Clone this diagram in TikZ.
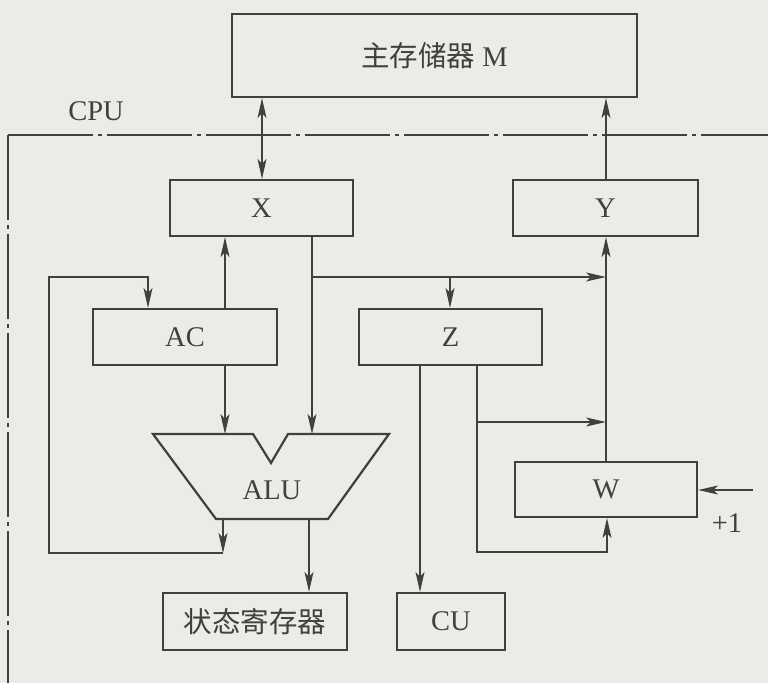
\documentclass[tikz,border=0pt]{standalone}
\usepackage{fontspec}
\setmainfont{Liberation Serif}
\newfontfamily\cjk{Noto Sans CJK SC}
\usetikzlibrary{arrows.meta}
\definecolor{bg}{RGB}{237,235,231}
\definecolor{ink}{RGB}{66,64,62}
\begin{document}
\begin{tikzpicture}[x=1pt,y=-1pt,
  every node/.style={text=ink,font=\fontsize{28.5}{31}\selectfont},
  box/.style={draw=ink,line width=2.2pt,inner sep=0pt,anchor=center},
  conn/.style={draw=ink,line width=1.3pt},
  arr/.style={conn,-{Stealth[length=20pt,width=9pt,inset=5pt]}},
  darr/.style={conn,{Stealth[length=20pt,width=9pt,inset=5pt]}-{Stealth[length=20pt,width=9pt,inset=5pt]}},
  frame/.style={draw=ink,line width=1.1pt,dash pattern=on 85pt off 5pt on 4pt off 5pt}]
\fill[bg] (0,0) rectangle (768,683);
\useasboundingbox (0,0) rectangle (768,683);
% boxes
\node[box,minimum width=405pt,minimum height=83pt] (M) at (434.5,55.5) {{\cjk 主存储器} M};
\node[box,minimum width=183pt,minimum height=56pt] (X) at (261.5,208) {X};
\node[box,minimum width=185pt,minimum height=56pt] (Y) at (605.5,208) {Y};
\node[box,minimum width=184pt,minimum height=56pt] (AC) at (185,337) {AC};
\node[box,minimum width=183pt,minimum height=56pt] (Z) at (450.5,337) {Z};
\node[box,minimum width=182pt,minimum height=55pt] (W) at (606,489.5) {W};
\node[box,minimum width=184pt,minimum height=57pt] (S) at (255,621.5) {\cjk 状态寄存器};
\node[box,minimum width=108pt,minimum height=57pt] (CU) at (451,621.5) {CU};
\node (cpu) at (96,111) {CPU};
\node (plus) at (727,523) {+1};
% ALU
\coordinate (a1) at (153,434);
\coordinate (a2) at (253,434);
\coordinate (a3) at (271,463);
\coordinate (a4) at (288,434);
\coordinate (a5) at (389,434);
\coordinate (a6) at (328,519);
\coordinate (a7) at (216,519);
\draw[draw=ink,line width=2.2pt,line join=miter] (a1) -- (a2) -- (a3) -- (a4) -- (a5) -- (a6) -- (a7) -- cycle;
\node (ALU) at (272,490) {ALU};
% CPU frame
\coordinate (fc) at (8,135);
\coordinate (fr) at (768,135);
\coordinate (fb) at (8,683);
\draw[frame] (fc) -- (fr);
\draw[frame] (fc) -- (fb);
% connectors
\draw[darr] (X.north -| 262,0) -- (M.south -| 262,0);
\draw[arr] (Y.north -| 606,0) -- (M.south -| 606,0);
\draw[arr] (AC.north -| 225,0) -- (X.south -| 225,0);
\draw[arr] (AC.south -| 225,0) -- (225,434);
\draw[arr] (X.south -| 312,0) -- (312,434);
\coordinate (b1) at (312,277);
\coordinate (b2) at (606,277);
\draw[arr] (b1) -- (b2);
\draw[arr] (450,277) -- (Z.north -| 450,0);
\draw[arr] (W.north) -- (Y.south -| W.north);
% feedback ALU -> AC
\coordinate (f1) at (223,519);
\coordinate (f2) at (223,553);
\coordinate (f3) at (49,553);
\coordinate (f4) at (49,277);
\coordinate (f5) at (148,277);
\draw[arr] (f1) -- (f2);
\draw[arr] (f2) -- (f3) -- (f4) -- (f5) -- (AC.north -| f5);
% ALU -> status
\draw[arr] (309,519) -- (S.north -| 309,0);
% Z -> CU
\draw[arr] (Z.south -| 420,0) -- (CU.north -| 420,0);
% Z -> W
\coordinate (z1) at (477,552);
\coordinate (z2) at (607,552);
\draw[arr] (Z.south -| 477,0) -- (z1) -- (z2) -- (W.south -| z2);
\coordinate (z3) at (477,422);
\coordinate (z4) at (606,422);
\draw[arr] (z3) -- (z4);
% +1
\coordinate (p1) at (753,490);
\draw[arr] (p1) -- (W.east |- p1);
\end{tikzpicture}
\end{document}
